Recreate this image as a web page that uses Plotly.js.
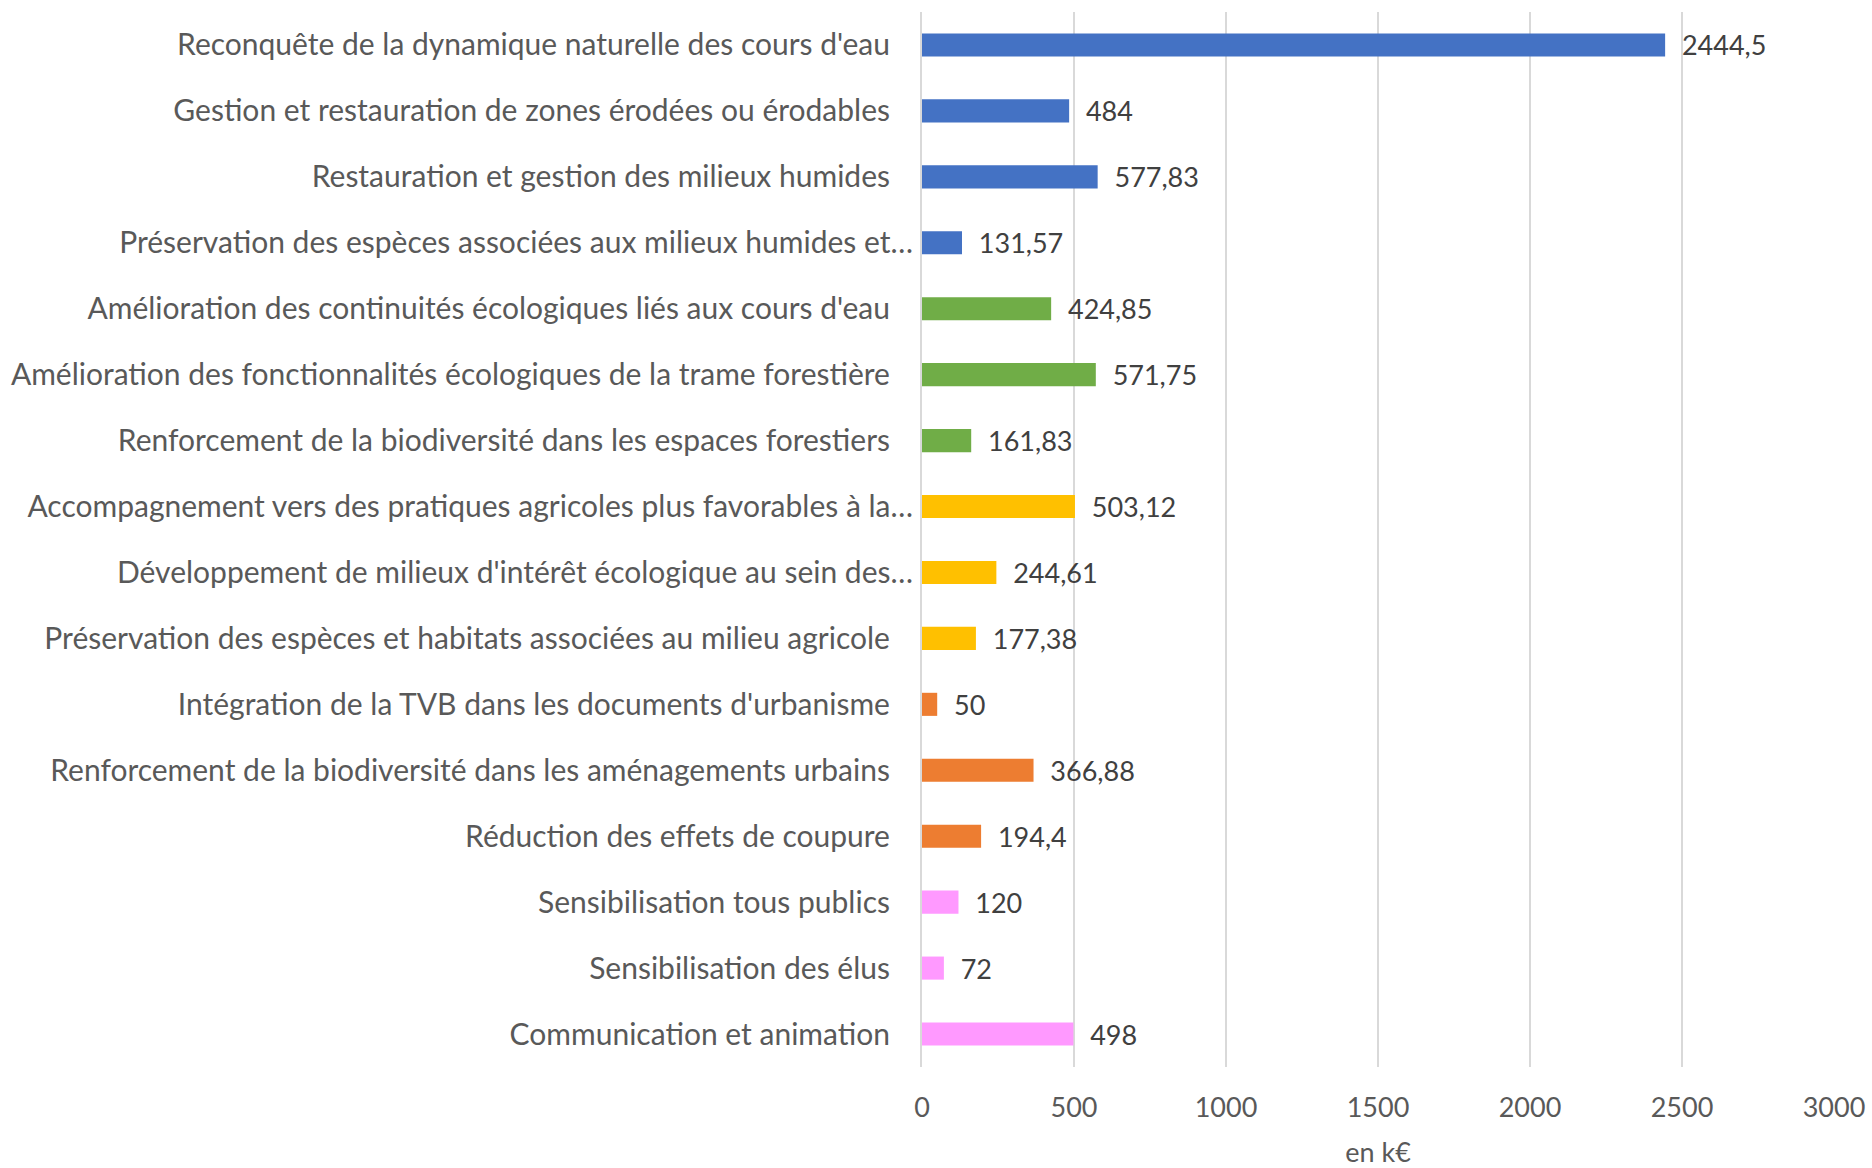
<!DOCTYPE html>
<html>
<head>
<meta charset="utf-8">
<script src="https://cdn.plot.ly/plotly-3.0.1.min.js"></script>
<style>html,body{margin:0;padding:0;background:#fff;}#chart{width:1872px;height:1168px;}</style>
</head>
<body>
<div id="chart"></div>
<script>
// ---- data ----
var categories = [
  "Reconquête de la dynamique naturelle des cours d'eau",
  "Gestion et restauration de zones érodées ou érodables",
  "Restauration et gestion des milieux humides",
  "Préservation des espèces associées aux milieux humides et…",
  "Amélioration des continuités écologiques liés aux cours d'eau",
  "Amélioration des fonctionnalités écologiques de la trame forestière",
  "Renforcement de la biodiversité dans les espaces forestiers",
  "Accompagnement vers des pratiques agricoles plus favorables à la…",
  "Développement de milieux d'intérêt écologique au sein des…",
  "Préservation des espèces et habitats associées au milieu agricole",
  "Intégration de la TVB dans les documents d'urbanisme",
  "Renforcement de la biodiversité dans les aménagements urbains",
  "Réduction des effets de coupure",
  "Sensibilisation tous publics",
  "Sensibilisation des élus",
  "Communication et animation"
];
var values = [2444.5, 484, 577.83, 131.57, 424.85, 571.75, 161.83, 503.12, 244.61, 177.38, 50, 366.88, 194.4, 120, 72, 498];
var groups = ["eau","eau","eau","eau","foret","foret","foret","agri","agri","agri","urba","urba","urba","sensi","sensi","sensi"];
var xTicks = [0, 500, 1000, 1500, 2000, 2500, 3000];
var xAxisTitle = "en k€";

// ---- styles ----
var groupColors = {eau:"#4472C4", foret:"#70AD47", agri:"#FFC000", urba:"#ED7D31", sensi:"#FF99FF"};
var FONT = "Lato, 'Open Sans', sans-serif";
var PAD = "\u00a0\u00a0\u00a0";

var yLabels = categories.map(function(c){ return c.slice(-1) === "…" ? c : c + PAD; });
var colors = groups.map(function(g){ return groupColors[g]; });
var texts = values.map(function(v){ return "\u00a0\u00a0" + String(v).replace(".", ","); });

var trace = {
  type: "bar",
  orientation: "h",
  x: values,
  y: yLabels,
  marker: {color: colors, line: {width: 0}},
  text: texts,
  textposition: "outside",
  constraintext: "none",
  cliponaxis: false,
  textfont: {family: FONT, size: 27, color: "#404040"},
  hoverinfo: "none"
};

var layout = {
  width: 1872,
  height: 1168,
  margin: {l: 922, r: 38, t: 12, b: 101},
  paper_bgcolor: "#ffffff",
  plot_bgcolor: "#ffffff",
  showlegend: false,
  bargap: 0.65,
  font: {family: FONT, color: "#595959"},
  xaxis: {
    range: [0, 3000],
    tickvals: xTicks,
    ticktext: xTicks.map(String),
    showgrid: true,
    gridcolor: "#D9D9D9",
    gridwidth: 2,
    zeroline: false,
    showline: false,
    ticks: "",
    ticklabelstandoff: 22,
    tickfont: {family: FONT, size: 27, color: "#595959"},
    title: {text: xAxisTitle, font: {family: FONT, size: 27, color: "#595959"}, standoff: 27},
    fixedrange: true
  },
  yaxis: {
    autorange: "reversed",
    type: "category",
    showgrid: false,
    zeroline: false,
    showline: true,
    linecolor: "#D9D9D9",
    linewidth: 2,
    ticks: "",
    ticklabelstandoff: 1,
    tickfont: {family: FONT, size: 30, color: "#595959"},
    fixedrange: true
  }
};

Plotly.newPlot("chart", [trace], layout, {displayModeBar: false, staticPlot: true});
</script>
</body>
</html>
